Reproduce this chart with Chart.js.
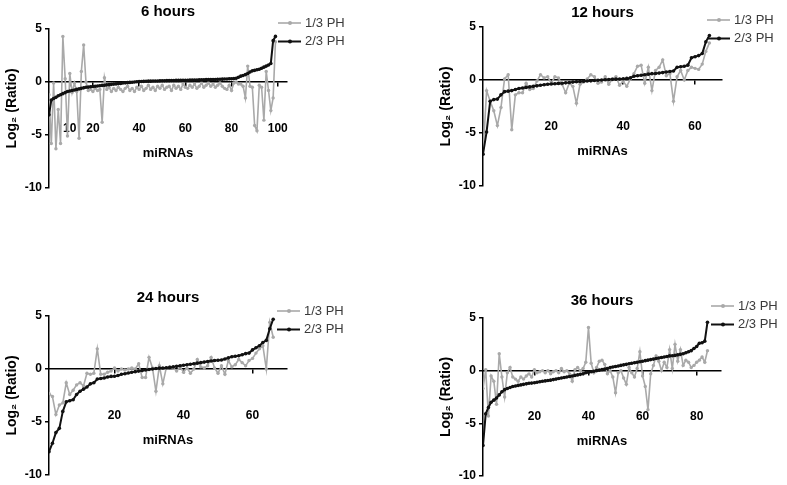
<!DOCTYPE html>
<html>
<head>
<meta charset="utf-8">
<script src="https://cdn.jsdelivr.net/npm/chart.js@4.4.1/dist/chart.umd.min.js"></script>
<style>
  html, body { margin: 0; padding: 0; background: #fff; overflow: hidden; }
  body { width: 787px; height: 485px; position: relative; }
  canvas { position: absolute; }
</style>
</head>
<body>
<canvas id="c6"></canvas>
<canvas id="c12"></canvas>
<canvas id="c24"></canvas>
<canvas id="c36"></canvas>
<script>
// log2 ratios per miRNA, ranked by the 2/3 PH value (x = rank)
var seriesNames = ['1/3 PH', '2/3 PH'];
var panelTitles = ['6 hours', '12 hours', '24 hours', '36 hours'];
var yTicks = [-10, -5, 0, 5];

var h6_third = [-1.2, -5.8, -0.1, -6.3, -2.6, -5.8, 4.3, 0.3, -5.1, 0.8,
  -1.0, -0.1, -0.9, -5.3, 1.0, 3.5, 0.0, -0.8, -0.7, -0.9,
  -0.6, -0.8, -0.7, -3.8, 0.4, -0.7, -0.5, -0.9, -0.6, -0.8,
  -0.5, -0.7, -0.9, -0.6, -0.4, -0.8, -0.6, -0.9, -0.5, -0.7,
  -0.4, -0.8, -0.6, -0.3, -0.7, -0.5, -0.8, -0.4, -0.6, -0.3,
  -0.7, -0.5, -0.4, -0.8, -0.3, -0.6, -0.4, -0.7, -0.2, -0.5,
  -0.6, -0.3, -0.5, -0.2, -0.6, -0.4, -0.1, -0.5, -0.3, -0.1,
  -0.4, -0.2, -0.5, -0.3, -0.1, -0.4, -0.6, -0.7, -0.3, -0.8,
  -0.1, 0.0, -0.2, -0.2, -0.4, -1.5, 1.5, -0.4, -0.5, -4.1,
  -4.6, -0.3, -0.5, -3.6, 1.0, -0.8, -2.7, -1.5, 3.8];
var h6_twoThirds = [-3.1, -1.7, -1.55, -1.45, -1.3, -1.2, -1.1, -1.0, -0.9, -0.85,
  -0.8, -0.75, -0.7, -0.65, -0.6, -0.55, -0.5, -0.48, -0.45, -0.42,
  -0.4, -0.38, -0.35, -0.32, -0.3, -0.27, -0.25, -0.22, -0.2, -0.18,
  -0.15, -0.13, -0.1, -0.08, -0.06, -0.04, -0.02, 0.0, 0.02, 0.04,
  0.05, 0.06, 0.07, 0.08, 0.08, 0.09, 0.1, 0.1, 0.11, 0.12,
  0.12, 0.13, 0.13, 0.14, 0.14, 0.15, 0.15, 0.16, 0.16, 0.17,
  0.17, 0.18, 0.18, 0.19, 0.19, 0.2, 0.2, 0.21, 0.22, 0.22,
  0.23, 0.24, 0.24, 0.25, 0.26, 0.27, 0.28, 0.29, 0.3, 0.3,
  0.32, 0.36, 0.45, 0.55, 0.62, 0.7, 0.8, 0.95, 1.05, 1.1,
  1.15, 1.2, 1.3, 1.4, 1.5, 1.6, 1.75, 3.9, 4.3];
var xTicks6 = [10, 20, 40, 60, 80, 100];

var h12_third = [-7.0, -1.0, -2.0, -2.9, -4.3, -2.6, 0.1, 0.5, -4.7, -1.4,
  -1.2, -1.2, -0.3, -0.9, -0.8, -0.1, 0.5, 0.2, 0.3, -0.3,
  0.3, 0.2, -0.4, -1.2, -0.3, -0.6, -2.2, -0.4, -0.2, 0.1,
  0.5, 0.3, -0.3, -0.2, 0.3, -0.4, 0.1, 0.3, -0.5, -0.1,
  -0.6, 0.1, 0.6, 1.3, 1.4, -0.3, 1.2, -1.0, 0.9, 1.2,
  1.9, 0.4, 0.6, -2.0, 0.3, 0.9, 0.0, 0.9, 1.2, 1.1,
  1.0, 1.5, 2.7, 3.5];
var h12_twoThirds = [-7.0, -4.9, -2.0, -1.85, -1.8, -1.4, -1.1, -1.05, -1.0, -0.9,
  -0.8, -0.75, -0.7, -0.65, -0.6, -0.55, -0.5, -0.45, -0.4, -0.38,
  -0.35, -0.32, -0.3, -0.27, -0.24, -0.2, -0.17, -0.14, -0.12, -0.1,
  -0.08, -0.05, -0.03, 0.0, 0.02, 0.04, 0.06, 0.08, 0.1, 0.12,
  0.15, 0.2, 0.35, 0.4, 0.45, 0.5, 0.55, 0.6, 0.62, 0.65,
  0.7, 0.75, 0.8, 0.85, 1.2, 1.25, 1.3, 1.4, 2.1, 2.2,
  2.3, 2.5, 3.6, 4.2];
var xTicks12 = [20, 40, 60];

var h24_third = [-2.3, -2.6, -4.3, -3.4, -3.2, -1.3, -2.4, -2.0, -1.5, -1.3,
  -1.6, -0.4, -0.5, -0.4, 1.9, -0.5, -0.5, -0.3, -0.2, 0.1,
  -0.2, 0.0, -0.1, 0.0, 0.1, 0.0, 0.5, -0.8, -0.8, 1.1,
  0.1, -2.1, 0.3, -1.4, 0.1, 0.2, 0.1, -0.2, 0.2, -0.3,
  0.1, -0.4, 0.0, 0.9, 0.2, 0.1, 0.3, 1.1, 0.1, -0.4,
  0.3, -0.5, 0.8, 0.2, 0.4, 0.9, 0.6, 0.3, 0.8, 1.0,
  1.5, 1.9, 2.2, 0.0, 4.4, 3.0];
var h24_twoThirds = [-7.8, -7.0, -6.0, -5.6, -4.0, -3.1, -3.0, -2.9, -2.4, -2.1,
  -1.9, -1.7, -1.4, -1.3, -0.95, -0.9, -0.85, -0.75, -0.7, -0.68,
  -0.62, -0.5, -0.45, -0.38, -0.3, -0.25, -0.2, -0.15, -0.1, -0.05,
  0.0, 0.05, 0.08, 0.1, 0.12, 0.15, 0.2, 0.25, 0.3, 0.35,
  0.4, 0.45, 0.5, 0.55, 0.6, 0.65, 0.7, 0.75, 0.8, 0.82,
  0.85, 0.95, 1.05, 1.15, 1.2, 1.25, 1.35, 1.45, 1.5, 1.8,
  2.0, 2.2, 2.5, 2.7, 3.8, 4.7];
var xTicks24 = [20, 40, 60];

var h36_third = [-1.7, 0.1, -4.3, -0.5, -1.0, -3.2, 1.6, -0.6, -2.5, -0.2,
  0.3, -0.6, -0.8, -1.0, -0.6, -0.8, -0.5, -0.3, -0.6, 0.1,
  -0.2, -0.1, 0.0, -0.2, 0.0, -0.3, -0.1, 0.0, -0.2, 0.2,
  -0.1, 0.0, -0.3, -1.0, 0.1, 0.3, 0.0, 0.2, 0.8, 4.1,
  0.7, -0.2, 0.3, 0.9, 1.0, 0.6, -0.3, 0.0, -0.6, -2.1,
  -0.2, 0.0, -0.7, -1.3, 0.3, -0.2, -0.6, 0.2, 1.8, -0.5,
  -1.5, -3.7, -0.3, 0.5, 1.4, 0.9, 0.0, 0.8, 0.3, 2.0,
  0.2, 2.5, 0.9, 2.0, 0.5, 1.0, 0.8, 0.3, 0.5, 0.8,
  1.0, 1.3, 0.8, 1.9];
var h36_twoThirds = [-7.1, -4.1, -3.5, -3.0, -2.8, -2.6, -2.3, -2.0, -1.8, -1.7,
  -1.6, -1.5, -1.45, -1.4, -1.35, -1.3, -1.25, -1.2, -1.18, -1.15,
  -1.1, -1.05, -1.0, -0.97, -0.93, -0.9, -0.85, -0.8, -0.75, -0.7,
  -0.65, -0.6, -0.55, -0.5, -0.45, -0.4, -0.35, -0.3, -0.2, -0.15,
  -0.1, -0.05, 0.0, 0.05, 0.1, 0.15, 0.2, 0.3, 0.35, 0.4,
  0.45, 0.5, 0.55, 0.6, 0.65, 0.7, 0.75, 0.8, 0.85, 0.9,
  0.95, 1.0, 1.05, 1.1, 1.15, 1.2, 1.25, 1.3, 1.35, 1.4,
  1.42, 1.45, 1.5, 1.55, 1.6, 1.7, 1.8, 1.9, 2.1, 2.3,
  2.6, 2.65, 2.8, 4.6];
var xTicks36 = [20, 40, 60, 80];

var FONT = "'Liberation Sans', Arial, Helvetica, sans-serif";
var GREY = '#a9a9a9';
var BLACK = '#111111';
// the x axis sits at y = 0, so chart.js reserves no room for it
var Y_AXIS_W = 48, X_AXIS_H = 79, TITLE_LINE = 18, RIGHT_PAD = 62, BOTTOM_PAD = 16;

// where each plot area sits on the page
var panels = [
  { id: 'c6', title: panelTitles[0], third: h6_third, twoThirds: h6_twoThirds, xTicks: xTicks6, xMax: 104,
    box: { left: 49, right: 287, top: 29, bottom: 188 }, titleGap: 8, legend: { dx: 18, dy: -6 } },
  { id: 'c12', title: panelTitles[1], third: h12_third, twoThirds: h12_twoThirds, xTicks: xTicks12, xMax: 67.5,
    box: { left: 483, right: 722, top: 27, bottom: 186 }, titleGap: 5, legend: { dx: 12, dy: -7 } },
  { id: 'c24', title: panelTitles[2], third: h24_third, twoThirds: h24_twoThirds, xTicks: xTicks24, xMax: 70,
    box: { left: 49, right: 287, top: 316, bottom: 475 }, titleGap: 9, legend: { dx: 17, dy: -5 } },
  { id: 'c36', title: panelTitles[3], third: h36_third, twoThirds: h36_twoThirds, xTicks: xTicks36, xMax: 89,
    box: { left: 483, right: 721, top: 318, bottom: 476 }, titleGap: 8, legend: { dx: 17, dy: -12 } }
];

// small legend sitting beside the top right corner of the plot
var cornerLegend = {
  id: 'cornerLegend',
  afterDraw: function(chart, args, opts) {
    var ctx = chart.ctx, area = chart.chartArea;
    var tx = area.right + opts.dx;
    ctx.save();
    chart.data.datasets.forEach(function(ds, i) {
      var y = area.top + opts.dy + i * 18.5;
      ctx.strokeStyle = ds.borderColor;
      ctx.lineWidth = ds.borderWidth;
      ctx.beginPath();
      ctx.moveTo(tx - 27, y);
      ctx.lineTo(tx - 4, y);
      ctx.stroke();
      ctx.fillStyle = ds.borderColor;
      ctx.beginPath();
      ctx.arc(tx - 15, y, 2, 0, Math.PI * 2);
      ctx.fill();
      ctx.fillStyle = '#3a3a3a';
      ctx.font = '13px ' + FONT;
      ctx.textBaseline = 'middle';
      ctx.textAlign = 'left';
      ctx.fillText(ds.label, tx, y);
    });
    ctx.restore();
  }
};

function toPoints(arr) {
  return arr.map(function(v, i) { return { x: i + 1, y: v }; });
}

panels.forEach(function(p) {
  var canvas = document.getElementById(p.id);
  var b = p.box;
  var titleH = TITLE_LINE + p.titleGap;
  canvas.width = Y_AXIS_W + (b.right - b.left) + RIGHT_PAD;
  canvas.height = titleH + (b.bottom - b.top) + BOTTOM_PAD;
  canvas.style.left = (b.left - Y_AXIS_W) + 'px';
  canvas.style.top = (b.top - titleH) + 'px';

  new Chart(canvas.getContext('2d'), {
    type: 'line',
    data: {
      datasets: [
        { label: seriesNames[0], data: toPoints(p.third), borderColor: GREY, backgroundColor: GREY,
          borderWidth: 1.6, pointRadius: 1.7, pointBorderWidth: 0, pointBackgroundColor: GREY, order: 1 },
        { label: seriesNames[1], data: toPoints(p.twoThirds), borderColor: BLACK, backgroundColor: BLACK,
          borderWidth: 2, pointRadius: 1.8, pointBorderWidth: 0, pointBackgroundColor: BLACK, order: 0 }
      ]
    },
    options: {
      responsive: false,
      animation: false,
      devicePixelRatio: 1,
      layout: { padding: { left: 0, right: RIGHT_PAD, top: 0, bottom: BOTTOM_PAD } },
      plugins: {
        legend: { display: false },
        tooltip: { enabled: false },
        title: {
          display: true, text: p.title, fullSize: false, color: '#000',
          font: { family: FONT, size: 15, weight: 'bold' },
          padding: { top: 0, bottom: p.titleGap }
        },
        cornerLegend: p.legend
      },
      scales: {
        x: {
          type: 'linear',
          position: { y: 0 },
          min: 1, max: p.xMax,
          afterBuildTicks: function(axis) {
            axis.ticks = p.xTicks.map(function(v) { return { value: v }; });
          },
          afterFit: function(axis) { axis.height = X_AXIS_H; },
          border: { display: true, color: '#000', width: 1.5 },
          grid: { drawOnChartArea: false, drawTicks: true, tickLength: 4, color: '#000', lineWidth: 1.5 },
          ticks: { autoSkip: false, maxRotation: 0, padding: 35, color: '#000',
                   font: { family: FONT, size: 12, weight: 'bold' } },
          title: { display: true, text: 'miRNAs', color: '#000', padding: 0,
                   font: { family: FONT, size: 13, weight: 'bold' } }
        },
        y: {
          type: 'linear',
          position: 'left',
          min: -10, max: 5,
          afterBuildTicks: function(axis) {
            axis.ticks = yTicks.map(function(v) { return { value: v }; });
          },
          afterFit: function(axis) { axis.width = Y_AXIS_W; },
          border: { display: true, color: '#000', width: 1.5 },
          grid: { drawOnChartArea: false, drawTicks: true, tickLength: 4, color: '#000', lineWidth: 1.5 },
          ticks: { padding: 3, color: '#000', font: { family: FONT, size: 12, weight: 'bold' } },
          title: { display: true, text: 'Log\u2082 (Ratio)', color: '#000', padding: { top: 3, bottom: 0 },
                   font: { family: FONT, size: 14, weight: 'bold' } }
        }
      }
    },
    plugins: [cornerLegend]
  });
});
</script>
</body>
</html>
